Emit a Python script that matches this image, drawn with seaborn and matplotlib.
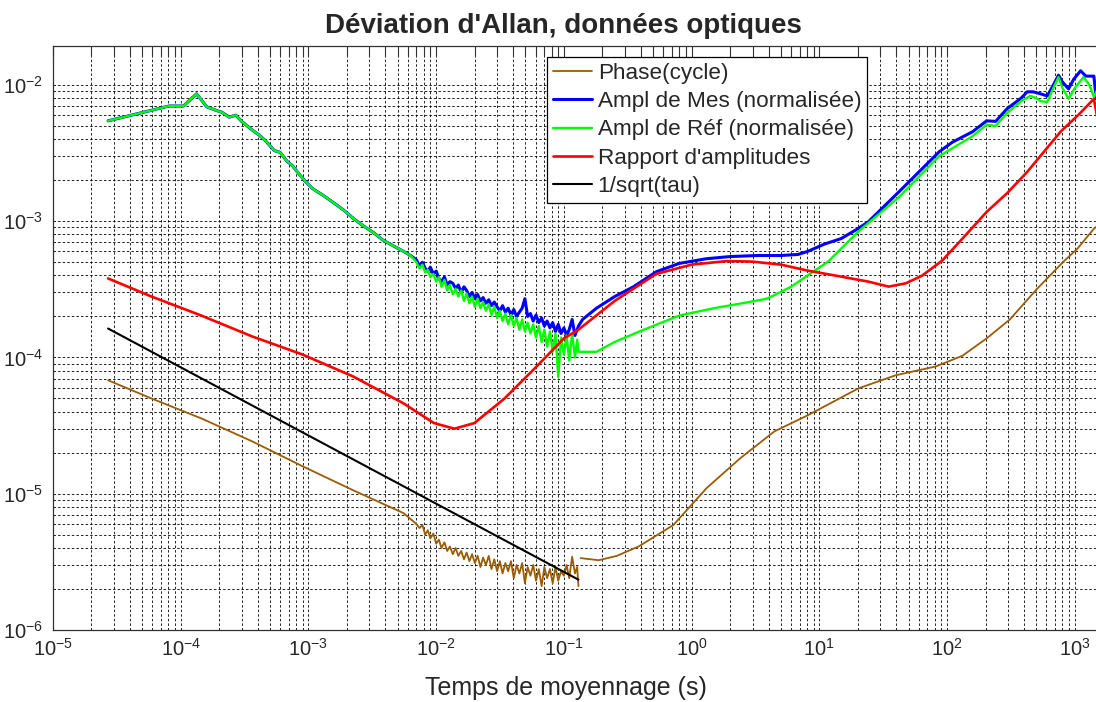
import numpy as np
import pandas as pd
import matplotlib
matplotlib.use('Agg')
import matplotlib.pyplot as plt
import seaborn as sns
from matplotlib.ticker import LogLocator, NullFormatter, FixedLocator

# ---------------- data ----------------
# shared early part of the two normalised amplitude curves
tau_early = [2.7e-5, 8.1e-5, 1.05e-4, 1.33e-4, 1.6e-4, 1.9e-4, 2.1e-4, 2.4e-4, 2.7e-4,
             3.0e-4, 3.4e-4, 3.7e-4, 4.1e-4, 4.6e-4, 5.4e-4, 6.0e-4, 6.8e-4, 7.5e-4,
             8.5e-4, 9.5e-4, 1.08e-3, 1.3e-3, 1.6e-3, 1.9e-3, 2.24e-3, 2.7e-3, 3.2e-3,
             3.8e-3, 4.6e-3, 5.56e-3, 6.3e-3]
amp_early = [5.45e-3, 7.0e-3, 7.0e-3, 8.6e-3, 6.9e-3, 6.5e-3, 6.3e-3, 5.8e-3, 6.0e-3,
             5.4e-3, 4.9e-3, 4.6e-3, 4.3e-3, 3.9e-3, 3.3e-3, 3.2e-3, 2.75e-3, 2.55e-3,
             2.2e-3, 1.95e-3, 1.73e-3, 1.55e-3, 1.35e-3, 1.2e-3, 1.05e-3, 9.2e-4, 8.3e-4,
             7.3e-4, 6.6e-4, 6.0e-4, 5.6e-4]

# noisy region (end of the first data set)
tau_noise = [7.0e-3, 7.4e-3, 7.8e-3, 8.2e-3, 8.6e-3, 9.0e-3, 9.5e-3, 1.0e-2, 1.05e-2,
             1.1e-2, 1.16e-2, 1.22e-2, 1.28e-2, 1.35e-2, 1.42e-2, 1.49e-2, 1.57e-2,
             1.65e-2, 1.73e-2, 1.82e-2, 1.91e-2, 2.01e-2, 2.11e-2, 2.22e-2, 2.33e-2,
             2.45e-2, 2.58e-2, 2.71e-2, 2.85e-2, 3.0e-2, 3.15e-2, 3.31e-2, 3.48e-2,
             3.66e-2, 3.85e-2, 4.05e-2, 4.26e-2, 4.48e-2, 4.71e-2, 4.95e-2, 5.2e-2,
             5.47e-2, 5.75e-2, 6.05e-2, 6.36e-2, 6.69e-2, 7.03e-2, 7.39e-2, 7.77e-2,
             8.17e-2, 8.59e-2, 9.03e-2, 9.5e-2, 1.0e-1, 1.05e-1, 1.1e-1, 1.16e-1,
             1.22e-1, 1.27e-1, 1.3e-1]
mes_noise = [5.2e-4, 4.7e-4, 5.0e-4, 4.5e-4, 4.3e-4, 4.6e-4, 4.1e-4, 4.3e-4, 3.8e-4,
             3.6e-4, 3.9e-4, 3.4e-4, 3.6e-4, 3.5e-4, 3.2e-4, 3.4e-4, 3.0e-4, 3.3e-4,
             3.1e-4, 2.8e-4, 3.0e-4, 2.7e-4, 2.9e-4, 2.6e-4, 2.75e-4, 2.5e-4, 2.65e-4,
             2.4e-4, 2.55e-4, 2.35e-4, 2.2e-4, 2.4e-4, 2.15e-4, 2.3e-4, 2.05e-4, 2.25e-4,
             2.0e-4, 2.15e-4, 2.3e-4, 2.7e-4, 2.0e-4, 2.1e-4, 1.85e-4, 2.05e-4, 1.8e-4,
             1.95e-4, 1.7e-4, 1.85e-4, 1.65e-4, 1.8e-4, 1.55e-4, 1.75e-4, 1.5e-4, 1.65e-4,
             1.45e-4, 1.6e-4, 1.9e-4, 1.45e-4, 1.6e-4, 1.7e-4]
ref_noise = [5.0e-4, 4.5e-4, 4.8e-4, 4.2e-4, 4.4e-4, 3.9e-4, 4.1e-4, 3.6e-4, 3.9e-4,
             3.3e-4, 3.7e-4, 3.1e-4, 3.4e-4, 2.9e-4, 3.2e-4, 2.8e-4, 3.1e-4, 2.6e-4,
             2.95e-4, 2.5e-4, 2.8e-4, 2.35e-4, 2.7e-4, 2.3e-4, 2.55e-4, 2.2e-4, 2.45e-4,
             2.05e-4, 2.35e-4, 1.95e-4, 2.2e-4, 1.85e-4, 2.1e-4, 1.75e-4, 2.05e-4, 1.7e-4,
             1.95e-4, 1.6e-4, 1.9e-4, 1.55e-4, 1.8e-4, 1.5e-4, 1.75e-4, 1.4e-4, 1.7e-4,
             1.3e-4, 1.6e-4, 1.2e-4, 1.55e-4, 1.1e-4, 1.5e-4, 7.2e-5, 1.4e-4, 1.05e-4,
             1.45e-4, 9.5e-5, 1.5e-4, 1.0e-4, 1.35e-4, 1.1e-4]
phase_noise = [6.0e-6, 5.6e-6, 5.9e-6, 5.0e-6, 5.4e-6, 4.7e-6, 5.1e-6, 4.3e-6, 4.6e-6,
               4.0e-6, 4.4e-6, 3.8e-6, 4.1e-6, 3.6e-6, 4.0e-6, 3.5e-6, 3.8e-6, 3.3e-6,
               3.7e-6, 3.2e-6, 3.6e-6, 3.1e-6, 3.5e-6, 2.9e-6, 3.4e-6, 3.0e-6, 3.5e-6,
               2.8e-6, 3.3e-6, 2.7e-6, 3.2e-6, 2.6e-6, 3.1e-6, 2.7e-6, 3.2e-6, 2.4e-6,
               3.0e-6, 2.6e-6, 3.1e-6, 2.2e-6, 2.9e-6, 2.5e-6, 3.0e-6, 2.3e-6, 2.8e-6,
               2.1e-6, 2.9e-6, 2.4e-6, 2.8e-6, 2.2e-6, 2.9e-6, 2.3e-6, 2.7e-6, 2.5e-6,
               3.0e-6, 2.4e-6, 3.45e-6, 2.6e-6, 2.9e-6, 2.1e-6]

# second data set (long averaging times)
tau_mes_late = [0.14, 0.18, 0.25, 0.35, 0.53, 0.8, 1.3, 2.0, 3.3, 5.0, 6.8, 8.1, 11.0,
                14.8, 20.0, 24.2, 41.9, 86.7, 110, 158, 204, 240, 294, 380, 424, 472,
                540, 609, 680, 745, 800, 893, 980, 1110, 1220, 1410, 1470, 1520, 1785]
mes_late = [1.9e-4, 2.3e-4, 2.8e-4, 3.3e-4, 4.26e-4, 4.9e-4, 5.3e-4, 5.5e-4, 5.6e-4,
            5.6e-4, 5.7e-4, 6.0e-4, 6.8e-4, 7.45e-4, 8.8e-4, 9.9e-4, 1.64e-3, 3.23e-3,
            3.8e-3, 4.53e-3, 5.45e-3, 5.4e-3, 6.67e-3, 8.0e-3, 8.9e-3, 8.9e-3, 8.6e-3,
            8.3e-3, 1.0e-2, 1.18e-2, 1.05e-2, 9.35e-3, 1.1e-2, 1.27e-2, 1.16e-2, 1.16e-2,
            7.9e-3, 1.07e-2, 1.5e-2]
tau_ref_late = [0.18, 0.25, 0.39, 0.8, 1.5, 2.5, 3.9, 6.0, 8.1, 11.7, 20.2, 41.9, 86.7,
                158, 204, 240, 294, 380, 448, 500, 540, 609, 680, 745, 800, 893, 1000,
                1170, 1300, 1410, 1600, 1785]
ref_late = [1.1e-4, 1.3e-4, 1.55e-4, 2.03e-4, 2.3e-4, 2.5e-4, 2.7e-4, 3.3e-4, 4.0e-4,
            5.05e-4, 8.4e-4, 1.5e-3, 3.0e-3, 4.2e-3, 5.1e-3, 5.0e-3, 6.2e-3, 7.6e-3,
            8.3e-3, 8.0e-3, 7.6e-3, 7.5e-3, 9.5e-3, 1.14e-2, 9.5e-3, 7.9e-3, 9.5e-3,
            1.14e-2, 1.0e-2, 8.15e-3, 1.05e-2, 1.35e-2]

# amplitude ratio
tau_ratio = [2.7e-5, 5.9e-5, 1.45e-4, 3.6e-4, 9.0e-4, 2.24e-3, 5.56e-3, 9.6e-3, 1.39e-2,
             1.99e-2, 3.43e-2, 5.9e-2, 1.0e-1, 1.3e-1, 0.25, 0.528, 1.0, 1.9, 3.0, 5.0,
             8.1, 14.8, 24.2, 34.9, 47.5, 63.6, 91.6, 132, 204, 294, 424, 773, 1100, 1410,
             1490, 1600, 1785]
ratio = [3.8e-4, 2.8e-4, 2.03e-4, 1.43e-4, 1.05e-4, 7.25e-5, 4.6e-5, 3.3e-5, 3.0e-5,
         3.3e-5, 5.0e-5, 8.3e-5, 1.38e-4, 1.6e-4, 2.6e-4, 4.1e-4, 4.8e-4, 5.1e-4, 5.05e-4,
         4.8e-4, 4.34e-4, 3.92e-4, 3.6e-4, 3.31e-4, 3.5e-4, 3.98e-4, 5.14e-4, 7.45e-4,
         1.17e-3, 1.6e-3, 2.3e-3, 4.53e-3, 6.2e-3, 7.9e-3, 5.93e-3, 7.3e-3, 8.3e-3]

# phase
tau_phase_early = [2.7e-5, 5.9e-5, 1.45e-4, 3.6e-4, 9.0e-4, 2.24e-3, 5.56e-3]
phase_early = [6.8e-5, 5.0e-5, 3.57e-5, 2.43e-5, 1.59e-5, 1.06e-5, 7.2e-6]
tau_phase_late = [0.135, 0.187, 0.26, 0.388, 0.72, 1.31, 2.4, 4.45, 8.1, 20.2, 39.6, 82,
                  132, 204, 310, 508, 815, 1050, 1410, 1785]
phase_late = [3.37e-6, 3.25e-6, 3.5e-6, 4.12e-6, 5.9e-6, 1.1e-5, 1.82e-5, 2.87e-5,
              3.76e-5, 5.93e-5, 7.4e-5, 8.6e-5, 1.03e-4, 1.38e-4, 1.9e-4, 3.2e-4,
              5.05e-4, 6.3e-4, 8.8e-4, 1.05e-3]

# 1/sqrt(tau) reference line
tau_ref_line = [2.7e-5, 0.13]
sqrt_line = [1.63e-4, 2.34e-6]

# axis ticks (decades)
x_decades = [1e-5, 1e-4, 1e-3, 1e-2, 1e-1, 1e0, 1e1, 1e2, 1e3]
y_decades = [1e-6, 1e-5, 1e-4, 1e-3, 1e-2]

labels = ["Phase(cycle)", "Ampl de Mes (normalisée)", "Ampl de Réf (normalisée)",
          "Rapport d'amplitudes", "1/sqrt(tau)"]
colors = ["#9A5C05", "#0000FF", "#00FF00", "#FF0000", "#000000"]
widths = [1.3, 2.2, 1.7, 1.9, 1.5]


def frame(segments):
    rows = []
    for k, (t, v) in enumerate(segments):
        for a, b in zip(t, v):
            rows.append((a, b, k))
    return pd.DataFrame(rows, columns=["tau", "sigma", "seg"])


series = [
    frame([(tau_phase_early + tau_noise, phase_early + phase_noise),
           (tau_phase_late, phase_late)]),
    frame([(tau_early + tau_noise + tau_mes_late, amp_early + mes_noise + mes_late)]),
    frame([(tau_early + tau_noise + tau_ref_late, amp_early + ref_noise + ref_late)]),
    frame([(tau_ratio, ratio)]),
    frame([(tau_ref_line, sqrt_line)]),
]

# ---------------- style ----------------
sns.set_style("white")
plt.rcParams['font.family'] = ['Liberation Sans', 'DejaVu Sans']
plt.rcParams['mathtext.fontset'] = 'custom'
plt.rcParams['mathtext.rm'] = 'Liberation Sans'
plt.rcParams['mathtext.it'] = 'Liberation Sans:italic'
plt.rcParams['mathtext.bf'] = 'Liberation Sans:bold'
plt.rcParams['axes.unicode_minus'] = False

W, H = 1096, 702
fig = plt.figure(figsize=(W / 100, H / 100), dpi=100)
ax = fig.add_axes([53 / W, 1 - 630 / H, 1 - 53 / W + 0.01, (630 - 46) / H])
ax.set_xscale('log')
ax.set_yscale('log')

for df, lab, col, lw in zip(series, labels, colors, widths):
    sns.lineplot(data=df, x="tau", y="sigma", units="seg", estimator=None, sort=False,
                 color=col, linewidth=lw, label=lab, ax=ax, legend=False)

ax.set_xlim(1e-5, 1785)
ax.set_ylim(1e-6, 1.93e-2)

ax.xaxis.set_major_locator(FixedLocator(x_decades))
ax.yaxis.set_major_locator(FixedLocator(y_decades))
for axis in (ax.xaxis, ax.yaxis):
    axis.set_minor_locator(LogLocator(base=10, subs=np.arange(2, 10), numticks=30))
    axis.set_minor_formatter(NullFormatter())

ax.grid(True, which='both', color='black', linestyle=(0, (3, 2.5)), linewidth=0.6)
ax.set_axisbelow(True)
ax.tick_params(which='both', direction='in', top=True, right=True, length=7,
               width=0.8, color='#333333')
ax.tick_params(axis='x', which='major', labelsize=14.5, pad=6)
ax.tick_params(axis='y', which='major', labelsize=14.5, pad=7)
for s in ax.spines.values():
    s.set_color('#333333')
    s.set_linewidth(0.9)
ax.set_xlabel("")
ax.set_ylabel("")

handles, labs = ax.get_legend_handles_labels()
hmap = dict(zip(labs, handles))
leg = ax.legend([hmap[l] for l in labels], labels, loc='upper left',
                bbox_to_anchor=(547 / W, 1 - 57 / H), bbox_transform=fig.transFigure,
                borderaxespad=0, fontsize=16.2, frameon=True, fancybox=False,
                edgecolor='black', framealpha=1, handlelength=1.75, handletextpad=0.25,
                labelspacing=0.33, borderpad=0.25)
leg.get_frame().set_linewidth(0.9)

fig.text(563 / W, 1 - 26 / H, "Déviation d'Allan, données optiques", ha='center',
         va='center', fontsize=20, fontweight='bold')
fig.text(566 / W, 1 - 688 / H, "Temps de moyennage (s)", ha='center', va='center',
         fontsize=18)

fig.savefig("out.png", dpi=100, facecolor='white')
